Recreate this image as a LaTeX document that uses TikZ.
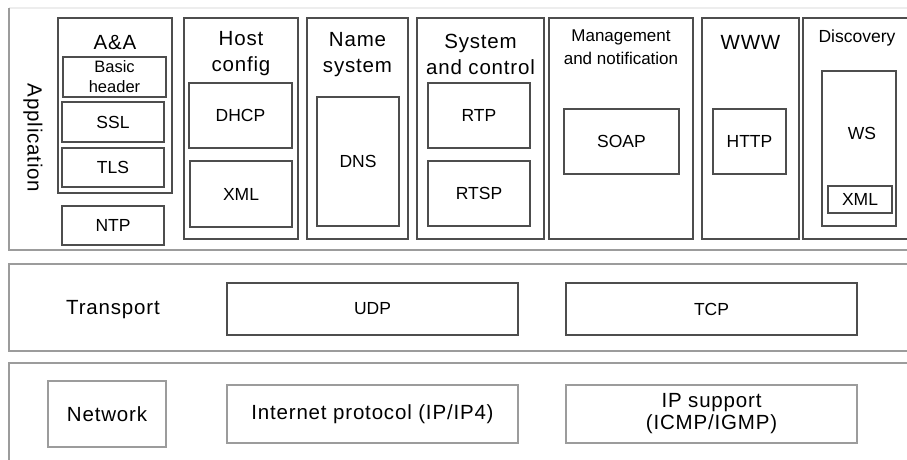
\documentclass[tikz,border=0pt]{standalone}
\usepackage{fontspec}
\setmainfont{Liberation Sans}
\newfontfamily\spc[LetterSpace=4]{Liberation Sans}
\definecolor{dk}{HTML}{4D4D4D}
\definecolor{lt}{HTML}{9C9C9C}
\definecolor{vlt}{HTML}{EDEDED}
\newcommand{\fsA}{\fontsize{17.5}{21}\selectfont}
\newcommand{\fsH}{\spc\fontsize{20.5}{26}\selectfont}
\newcommand{\fsM}{\fontsize{17}{23}\selectfont}
\newcommand{\fsN}{\spc\fontsize{20.5}{22}\selectfont}
\begin{document}
\begin{tikzpicture}[x=1pt,y=-1pt,
  dbox/.style={draw=dk,line width=1.6pt,inner sep=0pt,align=center,font=\fsA},
  lbox/.style={draw=lt,line width=1.5pt,inner sep=0pt,align=center,font=\fsN},
  lyr/.style={draw=lt,line width=1.5pt},
  hd/.style={inner sep=0pt,align=center,font=\fsH},
  txt/.style={inner sep=0pt,align=center,font=\fsA}]
\useasboundingbox (0,0) rectangle (907,460);

% ---- layer outlines
\draw[line width=1.2pt,draw=vlt] (907,8) -- (9,8);
\draw[lyr] (9,8) -- (9,250) -- (907,250);
\draw[lyr] (907,264) -- (9,264) -- (9,351) -- (907,351);
\draw[lyr] (907,363) -- (9,363) -- (9,460);

% ---- application layer
\node[hd,rotate=-90] (app) at (33,138) {Application};

\node[dbox,minimum width=114pt,minimum height=175pt] (aa) at (115,105.5) {};
\node[hd] (aal) at (115,43) {A\&A};
\node[dbox,minimum width=103pt,minimum height=40pt,font=\fontsize{16.5}{22}\selectfont] (bh) at (114.5,77) {Basic\\[-2pt]header};
\node[dbox,minimum width=102pt,minimum height=40pt] (ssl) at (113,122) {SSL};
\node[dbox,minimum width=102pt,minimum height=39pt] (tls) at (113,167.5) {TLS};
\node[dbox,minimum width=102pt,minimum height=39pt] (ntp) at (113,225.5) {NTP};

\node[dbox,minimum width=114pt,minimum height=221pt] (hc) at (241,128.5) {};
\node[hd] (hcl) at (241,54) {Host\\config};
\node[dbox,minimum width=103pt,minimum height=65pt] (dhcp) at (240.5,115.5) {DHCP};
\node[dbox,minimum width=102pt,minimum height=66pt] (xml) at (241,194) {XML};

\node[dbox,minimum width=101pt,minimum height=221pt] (ns) at (357.5,128.5) {};
\node[hd] (nsl) at (357.5,54.5) {Name\\system};
\node[dbox,minimum width=82pt,minimum height=129pt] (dns) at (358,161.5) {DNS};

\node[dbox,minimum width=127pt,minimum height=221pt] (sc) at (480.5,128.5) {};
\node[hd] (scl) at (480.5,54.5) {System\\and control};
\node[dbox,minimum width=102pt,minimum height=65pt] (rtp) at (479,115.5) {RTP};
\node[dbox,minimum width=102pt,minimum height=65pt] (rtsp) at (479,193.5) {RTSP};

\node[dbox,minimum width=144pt,minimum height=221pt] (mn) at (621,128.5) {};
\node[txt,font=\fsM] (mnl) at (621,47.5) {Management\\and notification};
\node[dbox,minimum width=115pt,minimum height=65pt] (soap) at (621.5,141.5) {SOAP};

\node[dbox,minimum width=97pt,minimum height=221pt] (www) at (750.5,128.5) {};
\node[hd] (wwwl) at (750.5,42) {WWW};
\node[dbox,minimum width=73pt,minimum height=65pt] (http) at (749.5,141.5) {HTTP};

\draw[draw=dk,line width=1.6pt] (907,18) -- (803,18) -- (803,239) -- (907,239);
\node[txt] (dsl) at (857,38) {Discovery};
\node[dbox,minimum width=74pt,minimum height=155pt] (ws) at (859,148.5) {};
\node[txt] (wsl) at (862,133) {WS};
\node[dbox,minimum width=64pt,minimum height=27pt] (xml2) at (860,199.5) {XML};

% ---- transport layer
\node[hd] (tr) at (113,310) {Transport};
\node[dbox,minimum width=291pt,minimum height=52pt] (udp) at (372.5,309) {UDP};
\node[dbox,minimum width=291pt,minimum height=52pt] (tcp) at (711.5,309) {TCP};

% ---- network layer
\node[lbox,minimum width=118pt,minimum height=66pt] (nw) at (107,414) {Network};
\node[lbox,minimum width=291pt,minimum height=58pt] (ip) at (372.5,414) {Internet protocol (IP/IP4)};
\node[lbox,minimum width=291pt,minimum height=58pt] (ips) at (711.5,414) {IP support\\(ICMP/IGMP)};
\end{tikzpicture}
\end{document}
